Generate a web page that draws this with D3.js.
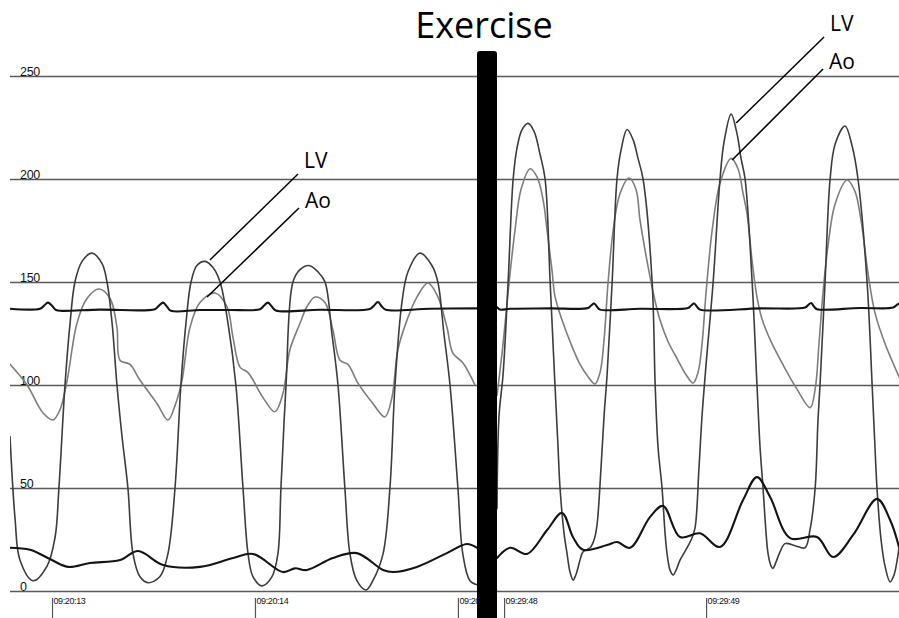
<!DOCTYPE html>
<html><head><meta charset="utf-8">
<script src="https://cdn.jsdelivr.net/npm/d3@7"></script>
<style>
html,body{margin:0;padding:0;background:#fff;}
svg{display:block;}
</style></head>
<body><svg id="c" width="899" height="618"></svg>
<script>
// ---------------- DATA ----------------
const yTicks = [0, 50, 100, 150, 200, 250];
const leftTickMs = [0, 1000, 2000];
const leftTickLabels = ["09:20:13", "09:20:14", "09:20:15"];
const rightTickMs = [0, 1000];
const rightTickLabels = ["09:29:48", "09:29:49"];
const leftDomainMs = [-207, 2094];
const rightDomainMs = [-35, 1955];
const title = "Exercise";

// ms relative to first tick, pressure mmHg
const leftLV = [[-207,75],[-182,35],[-158,15],[-94,5],[-25,12],[15,26],[34,50],[64,100],[89,130],[113,150],[148,160],[197,164],[246,159],[271,150],[296,130],[320,100],[345,75],[374,50],[399,18],[433,7],[473,4],[532,7],[571,18],[606,50],[635,100],[660,130],[685,150],[714,158],[754,160],[793,157],[828,150],[867,130],[906,100],[941,50],[966,18],[990,7],[1034,2.5],[1084,7],[1113,18],[1128,50],[1153,100],[1187,150],[1222,156],[1266,158],[1310,155],[1345,150],[1379,125],[1409,100],[1443,50],[1468,18],[1502,5],[1547,0.5],[1581,5],[1631,18],[1665,50],[1690,100],[1724,140],[1754,155],[1813,164],[1872,158],[1901,150],[1931,125],[1961,100],[2000,50],[2024,18],[2059,5],[2094,3]];
const leftAo = [[-207,110],[-123,100],[-44,86.4],[5,83],[39,88],[74,102],[123,130],[172,142],[232,146.6],[286,142],[320,128],[335,112],[384,110],[433,102.4],[517,91],[571,83],[606,90],[640,102],[680,128],[729,140],[803,144.7],[862,138],[892,123],[926,108.7],[966,106],[1039,94],[1098,87],[1138,96],[1172,117],[1222,130],[1256,138],[1296,142.7],[1345,140],[1384,126.7],[1419,112],[1458,110],[1507,101],[1581,91],[1640,84.5],[1675,94],[1704,117],[1749,131.5],[1798,142.7],[1852,149.5],[1897,143.7],[1946,128],[1975,115.5],[2025,110.7],[2084,100]];
const leftECG = [[-207,137],[-59,137],[-39,138.5],[-20,140],[0,138.5],[20,136.4],[49,136],[236,136.6],[507,136.8],[527,138.5],[547,140],[567,138],[586,136],[729,136.4],[877,136.4],[1025,136.8],[1044,138.5],[1064,140],[1084,138],[1103,136.2],[1320,136.5],[1566,136.9],[1586,138.5],[1606,140.3],[1626,138],[1645,136.5],[1862,137],[2094,137.2]];
const leftLow = [[-207,21],[-108,20],[-10,15.5],[79,11.7],[187,13.6],[335,15],[424,19.4],[547,12.6],[729,11.7],[892,16],[990,18],[1138,9.2],[1197,11],[1256,10.2],[1384,16],[1502,18.4],[1631,10.2],[1680,9.2],[1798,11.7],[1946,18.4],[2044,22.8],[2094,21]];

const rightLV = [[-35,40],[-25,85],[-5,105],[20,150],[45,200],[64,215],[89,224],[119,227],[149,223],[178,212],[203,200],[228,150],[252,100],[267,70],[277,50],[297,28],[312,18],[327,9],[342,5.3],[356,8],[376,15],[391,19],[426,21],[446,25],[460,32],[480,60],[495,85],[510,105],[535,150],[559,200],[579,214],[609,224],[639,219],[663,210],[688,200],[733,150],[748,100],[762,70],[782,50],[797,28],[807,18],[822,10],[837,7.8],[851,10],[871,15],[906,21],[931,26],[946,31],[965,60],[980,85],[1000,110],[1035,150],[1069,200],[1089,218],[1124,231.5],[1153,222],[1173,210],[1193,200],[1228,150],[1252,100],[1267,70],[1282,50],[1297,28],[1307,18],[1322,12],[1331,11],[1346,14],[1366,19],[1391,23],[1440,22],[1490,21],[1515,30],[1540,50],[1554,83],[1564,100],[1589,150],[1614,200],[1639,217],[1688,225.7],[1723,216],[1752,200],[1797,150],[1822,100],[1836,70],[1846,50],[1866,25],[1886,12],[1911,4.4],[1931,8],[1946,15],[1955,21]];
const rightAo = [[-35,95],[-5,120],[25,150],[54,175],[84,195],[129,205],[163,201],[193,190],[213,175],[238,155],[252,143],[287,131.5],[327,121],[376,110],[416,104],[450,100.5],[475,106],[495,122],[515,150],[540,175],[574,193],[619,200.5],[653,195],[673,180],[708,160],[743,142.7],[772,131.5],[812,121],[861,112],[901,105],[936,101],[960,106],[980,120],[1000,145],[1030,175],[1069,198],[1124,210],[1158,205],[1183,193],[1203,183],[1228,160],[1252,142.7],[1277,132],[1317,122],[1391,108],[1450,98],[1515,89],[1540,98],[1559,120],[1579,145],[1604,168],[1639,188],[1698,199.5],[1737,194],[1767,180],[1802,154],[1836,135],[1886,120],[1946,106],[1955,104]];
const rightECG = [[-35,137.8],[-20,136.6],[30,137],[228,137.2],[416,137.4],[431,138.6],[446,139.6],[460,138],[475,136.6],[673,137],[911,137.4],[926,138.6],[941,139.6],[955,138],[970,136.6],[1267,137.2],[1490,137.6],[1505,138.8],[1520,139.8],[1535,138],[1549,136.8],[1762,137.4],[1926,137.6],[1946,139],[1955,139.5]];
const rightLow = [[-35,16],[30,21],[114,18],[213,29.6],[287,37.9],[342,26],[391,20],[510,22.3],[559,23.8],[624,21],[723,36],[787,41.3],[871,26.2],[970,28],[1069,21.4],[1183,44.2],[1252,55.3],[1317,45.6],[1416,25.7],[1549,26.2],[1629,16.5],[1728,27.2],[1846,44.7],[1911,34.5],[1955,21.4]];

// annotations: panel, label, anchor [ms, mmHg], end [ms, mmHg]
const annotations = [
  {panel:"left",  label:"LV", from:[778,160.7],  to:[1212,202.4]},
  {panel:"left",  label:"Ao", from:[764,142.7],  to:[1217,185.9]},
  {panel:"right", label:"LV", from:[1149,227.2], to:[1584,268.9]},
  {panel:"right", label:"Ao", from:[1129,209.2], to:[1579,253.4]}
];

// ---------------- LAYOUT ----------------
const svg = d3.select("#c");
const W = 899, H = 618;
const gridLeft = 10;
const leftRange = [10, 477];
const rightRange = [497, 899];
const y = d3.scaleLinear().domain([0, 250]).range([591, 76]);
const xL = d3.scaleLinear().domain(leftDomainMs).range(leftRange);
const xR = d3.scaleLinear().domain(rightDomainMs).range(rightRange);

// grid lines + y labels
const yAxis = d3.axisRight(y).tickValues(yTicks).tickSize(W - gridLeft).tickFormat(d3.format("d"));
const gy = svg.append("g").attr("transform", `translate(${gridLeft},0)`).call(yAxis);
gy.select(".domain").remove();
gy.selectAll(".tick line").attr("stroke", "#5a5a5a").attr("stroke-width", 1.7);
gy.selectAll(".tick text")
  .attr("x", 10).attr("dy", 0).attr("y", -1)
  .attr("text-anchor", "start")
  .style("font-family", "'Liberation Sans', Arial, sans-serif")
  .style("font-size", "12.5px").style("letter-spacing", "-0.3px")
  .attr("fill", "#111");

// time axes
function timeAxis(x, vals, labels) {
  const ax = d3.axisBottom(x).tickValues(vals).tickSize(20)
    .tickFormat((d, i) => labels[i]);
  const g = svg.append("g").attr("transform", "translate(0,598)").call(ax);
  g.select(".domain").remove();
  g.selectAll(".tick line").attr("stroke", "#555").attr("stroke-width", 1.2);
  g.selectAll(".tick text")
    .attr("x", 1).attr("y", 0).attr("dy", "0.72em")
    .attr("text-anchor", "start")
    .style("font-family", "'Liberation Sans', Arial, sans-serif")
    .style("font-size", "9px").style("letter-spacing", "-0.4px")
    .attr("fill", "#111");
}
timeAxis(xL, leftTickMs, leftTickLabels);
timeAxis(xR, rightTickMs, rightTickLabels);

// clips
const defs = svg.append("defs");
defs.append("clipPath").attr("id", "clipL").append("rect")
  .attr("x", leftRange[0]).attr("y", 0).attr("width", leftRange[1] - leftRange[0]).attr("height", H);
defs.append("clipPath").attr("id", "clipR").append("rect")
  .attr("x", rightRange[0]).attr("y", 0).attr("width", rightRange[1] - rightRange[0]).attr("height", H);

function drawSeries(x, clip, data, color, width) {
  const line = d3.line().x(d => x(d[0])).y(d => y(d[1])).curve(d3.curveCatmullRom.alpha(0.5));
  svg.append("path").datum(data)
    .attr("clip-path", `url(#${clip})`)
    .attr("d", line).attr("fill", "none")
    .attr("stroke", color).attr("stroke-width", width)
    .attr("stroke-linejoin", "round").attr("stroke-linecap", "round");
}
const cAo = "#7d7d7d", cLV = "#3c3c3c", cBlk = "#141414";
drawSeries(xL, "clipL", leftAo, cAo, 1.6);
drawSeries(xL, "clipL", leftLV, cLV, 1.6);
drawSeries(xL, "clipL", leftECG, cBlk, 2.1);
drawSeries(xL, "clipL", leftLow, cBlk, 2.1);
drawSeries(xR, "clipR", rightAo, cAo, 1.6);
drawSeries(xR, "clipR", rightLV, cLV, 1.6);
drawSeries(xR, "clipR", rightECG, cBlk, 2.1);
drawSeries(xR, "clipR", rightLow, cBlk, 2.1);

// annotations
const labelDy = {LV: -6, Ao: 0};
annotations.forEach(a => {
  const x = a.panel === "left" ? xL : xR;
  svg.append("line")
    .attr("x1", x(a.from[0])).attr("y1", y(a.from[1]))
    .attr("x2", x(a.to[0])).attr("y2", y(a.to[1]))
    .attr("stroke", "#000").attr("stroke-width", 1.5);
  svg.append("text")
    .attr("x", x(a.to[0]) + 6).attr("y", y(a.to[1]) + labelDy[a.label])
    .style("font-family", "'Open Sans', sans-serif").style("font-size", "21px")
    .attr("fill", "#000").text(a.label);
});

// exercise separator bar
const barX = leftRange[1], barW = rightRange[0] - leftRange[1];
svg.append("rect").attr("x", barX).attr("y", 51).attr("width", barW).attr("height", H - 51 + 5)
  .attr("rx", 3).attr("fill", "#000");

svg.append("text").attr("x", barX + barW / 2 - 3).attr("y", 38)
  .attr("text-anchor", "middle")
  .style("font-family", "'Open Sans', sans-serif").style("font-size", "36px")
  .attr("fill", "#000").text(title);
</script></body></html>
